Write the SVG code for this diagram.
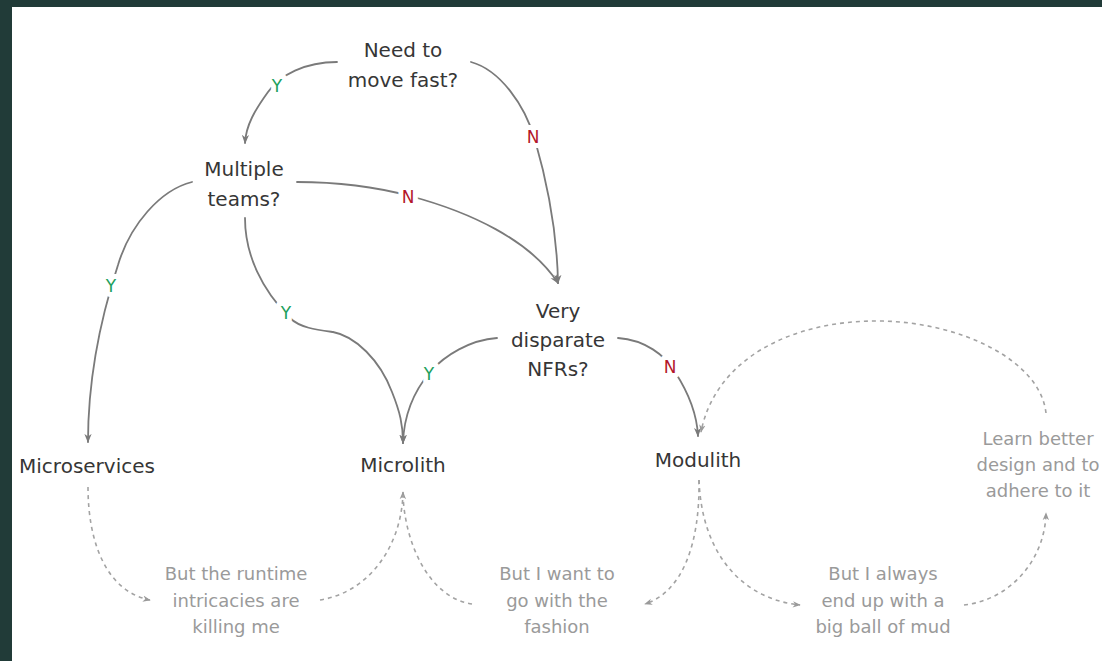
<svg xmlns="http://www.w3.org/2000/svg" width="1102" height="661" viewBox="0 0 1102 661">
<style>
.node{font-family:"DejaVu Sans","Liberation Sans",sans-serif;font-size:20px;fill:#363636;text-anchor:middle}
.note{font-family:"DejaVu Sans","Liberation Sans",sans-serif;font-size:18px;fill:#9a9a9a;text-anchor:middle}
.lbl{font-family:"DejaVu Sans","Liberation Sans",sans-serif;font-size:17px;text-anchor:middle;stroke:#ffffff;stroke-width:10px;paint-order:stroke;stroke-linejoin:round}
.y{fill:#21a05c}
.n{fill:#b3162a}
.solid{fill:none;stroke:#7a7a7a;stroke-width:1.8;stroke-linecap:round}
.dash{fill:none;stroke:#a3a3a3;stroke-width:1.6;stroke-dasharray:4 4}
</style>
<defs>
<marker id="arr" viewBox="0 0 10 10" refX="9" refY="5" markerWidth="9" markerHeight="9" markerUnits="userSpaceOnUse" orient="auto">
<path d="M0,1 L10,5 L0,9 L3,5 z" fill="#7a7a7a"/>
</marker>
<marker id="arrd" viewBox="0 0 10 10" refX="9" refY="5" markerWidth="8" markerHeight="8" markerUnits="userSpaceOnUse" orient="auto">
<path d="M0,1 L10,5 L0,9 L3,5 z" fill="#9a9a9a"/>
</marker>
</defs>
<rect x="0" y="0" width="1102" height="661" fill="#213b38"/>
<rect x="12" y="7" width="1090" height="654" fill="#ffffff"/>

<g id="connectors">
<path class="solid" marker-end="url(#arr)" d="M337 62 C305 62 280 75 268 92 C255 110 246 125 245 143"/>
<path class="solid" marker-end="url(#arr)" d="M471 62 C500 70 525 105 535 140 C548 185 557 230 558 283"/>
<path class="solid" marker-end="url(#arr)" d="M297 182 C340 182 380 188 410 196 C470 212 530 240 558 283"/>
<path class="solid" marker-end="url(#arr)" d="M192 182 C160 190 130 225 118 265 C100 320 88 380 88 442"/>
<path class="solid" marker-end="url(#arr)" d="M245 218 C245 255 262 290 290 318 C300 328 318 330 333 332 C355 336 380 360 392 392 C400 412 403 425 403 443"/>
<path class="solid" marker-end="url(#arr)" d="M497 338 C470 340 445 355 430 372 C415 390 404 412 403 443"/>
<path class="solid" marker-end="url(#arr)" d="M618 338 C645 340 665 355 675 372 C688 392 697 415 698 436"/>
<path class="dash" marker-end="url(#arrd)" d="M1046 413 C1040 360 960 322 880 321 C790 320 715 360 701 432"/>
<path class="dash" marker-end="url(#arrd)" d="M88 487 C88 545 108 592 150 600"/>
<path class="dash" marker-end="url(#arrd)" d="M320 600 C370 592 402 545 403 492"/>
<path class="dash" d="M472 604 C430 598 405 545 403 495"/>
<path class="dash" marker-end="url(#arrd)" d="M699 480 C700 545 682 592 645 604"/>
<path class="dash" marker-end="url(#arrd)" d="M699 480 C702 560 748 600 800 605"/>
<path class="dash" marker-end="url(#arrd)" d="M964 605 C1010 600 1045 560 1046 513"/>
<text class="lbl y" x="277" y="92">Y</text>
<text class="lbl n" x="533" y="143">N</text>
<text class="lbl n" x="408" y="203">N</text>
<text class="lbl y" x="111" y="292">Y</text>
<text class="lbl y" x="286" y="319">Y</text>
<text class="lbl y" x="429" y="380">Y</text>
<text class="lbl n" x="670" y="373">N</text>
</g>

<g id="node-need-to-move-fast">
<text class="node" x="403" y="57">Need to</text>
<text class="node" x="403" y="87">move fast?</text>
</g>
<g id="node-multiple-teams">
<text class="node" x="244" y="176">Multiple</text>
<text class="node" x="244" y="206">teams?</text>
</g>
<g id="node-very-disparate-nfrs">
<text class="node" x="558" y="318">Very</text>
<text class="node" x="558" y="347">disparate</text>
<text class="node" x="558" y="376">NFRs?</text>
</g>
<g id="node-microservices">
<text class="node" x="87" y="473">Microservices</text>
</g>
<g id="node-microlith">
<text class="node" x="403" y="472">Microlith</text>
</g>
<g id="node-modulith">
<text class="node" x="698" y="467">Modulith</text>
</g>
<g id="node-learn-better">
<text class="note" x="1038" y="445">Learn better</text>
<text class="note" x="1038" y="471">design and to</text>
<text class="note" x="1038" y="497">adhere to it</text>
</g>
<g id="node-runtime-intricacies">
<text class="note" x="236" y="580">But the runtime</text>
<text class="note" x="236" y="607">intricacies are</text>
<text class="note" x="236" y="633">killing me</text>
</g>
<g id="node-fashion">
<text class="note" x="557" y="580">But I want to</text>
<text class="note" x="557" y="607">go with the</text>
<text class="note" x="557" y="633">fashion</text>
</g>
<g id="node-big-ball-of-mud">
<text class="note" x="883" y="580">But I always</text>
<text class="note" x="883" y="607">end up with a</text>
<text class="note" x="883" y="633">big ball of mud</text>
</g>
</svg>
